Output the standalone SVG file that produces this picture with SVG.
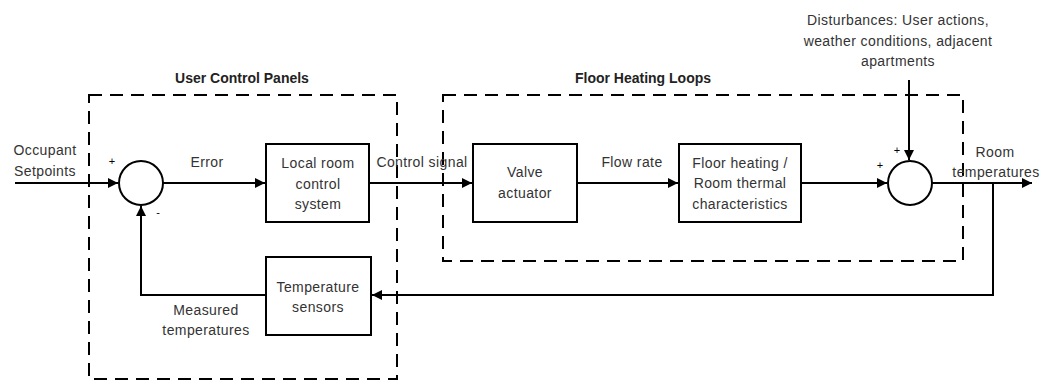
<svg xmlns="http://www.w3.org/2000/svg" width="1042" height="381" viewBox="0 0 1042 381">
<defs>
<marker id="arr" viewBox="0 0 10 10" refX="10" refY="5" markerWidth="10" markerHeight="10" markerUnits="userSpaceOnUse" orient="auto">
<path d="M0,0 L10,5 L0,10 Z" fill="#000"/>
</marker>
</defs>
<style>
text{font-family:"Liberation Sans",Arial,sans-serif;font-size:14px;letter-spacing:0.4px;fill:#333;text-anchor:middle}
.t{font-weight:bold;fill:#222;letter-spacing:0}
.s{font-size:11px;fill:#000;letter-spacing:0}
.box{fill:#fff;stroke:#000;stroke-width:2}
.dash{fill:none;stroke:#000;stroke-width:2;stroke-dasharray:13 8}
.ln{fill:none;stroke:#000;stroke-width:2}
.sum{fill:#fff;stroke:#000;stroke-width:2}
</style>
<rect width="1042" height="381" fill="#fff"/>

<g id="group-user-control-panels">
<rect class="dash" x="89" y="95" width="308" height="284"/>
<text class="t" x="242" y="83">User Control Panels</text>
</g>
<g id="group-floor-heating-loops">
<rect class="dash" x="443" y="95" width="520" height="166"/>
<text class="t" x="643" y="83">Floor Heating Loops</text>
</g>

<g id="connectors">
<line class="ln" x1="15" y1="183" x2="118" y2="183" marker-end="url(#arr)"/>
<line class="ln" x1="163" y1="183" x2="265" y2="183" marker-end="url(#arr)"/>
<line class="ln" x1="369" y1="183" x2="472" y2="183" marker-end="url(#arr)"/>
<line class="ln" x1="577" y1="183" x2="678" y2="183" marker-end="url(#arr)"/>
<line class="ln" x1="801" y1="183" x2="887" y2="183" marker-end="url(#arr)"/>
<line class="ln" x1="909" y1="80" x2="909" y2="160" marker-end="url(#arr)"/>
<line class="ln" x1="931" y1="183" x2="1032" y2="183" marker-end="url(#arr)"/>
<polyline class="ln" points="993,183 993,295 372,295" marker-end="url(#arr)"/>
<polyline class="ln" points="266,295 141,295 141,206" marker-end="url(#arr)"/>
</g>

<g id="sum1">
<circle class="sum" cx="141" cy="183" r="22"/>
<text class="s" x="112" y="165">+</text>
<text class="s" x="158" y="216">-</text>
</g>
<g id="sum2">
<circle class="sum" cx="910" cy="183" r="22"/>
<text class="s" x="880" y="169">+</text>
<text class="s" x="897" y="154">+</text>
</g>

<g id="local-room-control">
<rect class="box" x="266" y="144" width="103" height="78"/>
<text x="318" y="168">Local room</text>
<text x="318" y="189">control</text>
<text x="318" y="209">system</text>
</g>
<g id="valve-actuator">
<rect class="box" x="473" y="144" width="104" height="78"/>
<text x="525" y="177">Valve</text>
<text x="525" y="198">actuator</text>
</g>
<g id="floor-heating">
<rect class="box" x="679" y="144" width="122" height="78"/>
<text x="740" y="168">Floor heating /</text>
<text x="740" y="188">Room thermal</text>
<text x="740" y="209">characteristics</text>
</g>
<g id="temperature-sensors">
<rect class="box" x="266" y="257" width="105" height="78"/>
<text x="318" y="292">Temperature</text>
<text x="318" y="312">sensors</text>
</g>

<g id="labels">
<text x="45" y="155">Occupant</text>
<text x="45" y="176">Setpoints</text>
<text x="207" y="167">Error</text>
<text x="422" y="167">Control signal</text>
<text x="632" y="167">Flow rate</text>
<text x="898" y="25">Disturbances: User actions,</text>
<text x="898" y="46">weather conditions, adjacent</text>
<text x="898" y="66">apartments</text>
<text x="995" y="157">Room</text>
<text x="996" y="177">temperatures</text>
<text x="206" y="315">Measured</text>
<text x="206" y="335">temperatures</text>
</g>
</svg>
